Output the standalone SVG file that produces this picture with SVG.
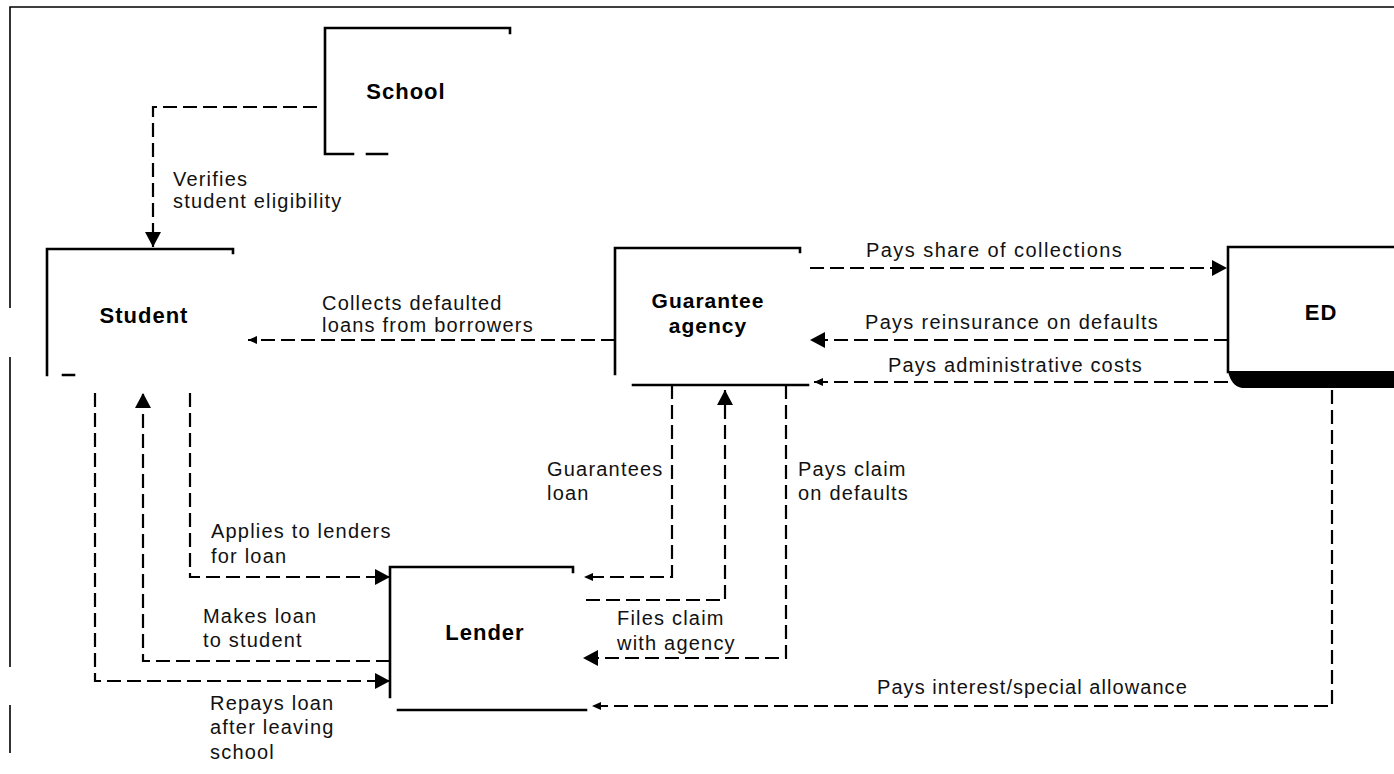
<svg xmlns="http://www.w3.org/2000/svg" width="1394" height="774" viewBox="0 0 1394 774">
<style>
.box{fill:none;stroke:#000;stroke-width:2.6;stroke-linecap:square}
.frame{fill:none;stroke:#000;stroke-width:1.6}
.con{fill:none;stroke:#000;stroke-width:2.2;stroke-dasharray:14 6}
.lbl{font-family:"Liberation Sans",Arial,sans-serif;font-size:20px;letter-spacing:1.2px;fill:#111}
.node{font-family:"Liberation Sans",Arial,sans-serif;font-size:22px;font-weight:bold;letter-spacing:1px;fill:#000;text-anchor:middle}
.node2{font-size:21px}
</style>
<defs>
<marker id="arr" markerUnits="userSpaceOnUse" markerWidth="16" markerHeight="16" refX="15" refY="8" orient="auto">
<path d="M0,0 L15,8 L0,16 z" fill="#000"/>
</marker>
<marker id="arrs" markerUnits="userSpaceOnUse" markerWidth="10" markerHeight="10" refX="9" refY="5" orient="auto">
<path d="M0,1 L9,5 L0,9 z" fill="#000"/>
</marker>
</defs>
<rect width="1394" height="774" fill="#fff"/>
<g id="frame">
<path class="frame" d="M10,308 L10,7 L1394,7 M10,357 L10,667 M10,705 L10,753"/>
</g>
<g id="school">
<path class="box" d="M510,33 L510,28 L325,28 L325,154 L353,154 M367,154 L387,154"/>
<text class="node" x="406" y="99">School</text>
</g>
<g id="student">
<path class="box" d="M233,253 L233,249 L47,249 L47,375 M63,375 L74,375"/>
<text class="node" x="144" y="323">Student</text>
</g>
<g id="guarantee-agency">
<path class="box" d="M800,252 L800,248 L615,248 L615,374 M633,385 L808,385"/>
<text class="node node2" x="708" y="308">Guarantee</text>
<text class="node node2" x="708" y="333">agency</text>
</g>
<g id="ed">
<path class="box" d="M1228,372 L1228,247 L1394,247"/>
<path d="M1228,371 L1394,371 L1394,388 L1242,388 Q1231,386 1228,371 Z" fill="#000"/>
<text class="node" x="1321" y="320">ED</text>
</g>
<g id="lender">
<path class="box" d="M573,572 L573,567 L390,567 L390,697 M398,710 L586,710"/>
<text class="node" x="485" y="640">Lender</text>
</g>
<g id="connectors">
<path class="con" d="M317,107 L153,107 L153,247" marker-end="url(#arr)"/>
<path class="con" d="M615,340 L248,340" marker-end="url(#arrs)"/>
<path class="con" d="M810,268 L1227,268" marker-end="url(#arr)"/>
<path class="con" d="M1228,340 L810,340" marker-end="url(#arr)"/>
<path class="con" d="M1228,382 L814,382" marker-end="url(#arrs)"/>
<path class="con" d="M672,385 L672,577 L584,577" marker-end="url(#arrs)"/>
<path class="con" d="M586,600 L725,600 L725,390" marker-end="url(#arr)"/>
<path class="con" d="M786,385 L786,658 L583,658" marker-end="url(#arr)"/>
<path class="con" d="M1332,390 L1332,706 L592,706" marker-end="url(#arrs)"/>
<path class="con" d="M190,393 L190,577 L390,577" marker-end="url(#arr)"/>
<path class="con" d="M390,661 L143,661 L143,393" marker-end="url(#arr)"/>
<path class="con" d="M95,393 L95,681 L390,681" marker-end="url(#arr)"/>
</g>
<g id="connector-labels">
<text class="lbl" x="173" y="186">Verifies</text>
<text class="lbl" x="173" y="208">student eligibility</text>
<text class="lbl" x="322" y="310">Collects defaulted</text>
<text class="lbl" x="322" y="332">loans from borrowers</text>
<text class="lbl" x="866" y="257" textLength="257">Pays share of collections</text>
<text class="lbl" x="865" y="329" textLength="294">Pays reinsurance on defaults</text>
<text class="lbl" x="888" y="372" textLength="255">Pays administrative costs</text>
<text class="lbl" x="547" y="476">Guarantees</text>
<text class="lbl" x="547" y="500">loan</text>
<text class="lbl" x="798" y="476">Pays claim</text>
<text class="lbl" x="798" y="500">on defaults</text>
<text class="lbl" x="617" y="625">Files claim</text>
<text class="lbl" x="617" y="650">with agency</text>
<text class="lbl" x="211" y="538">Applies to lenders</text>
<text class="lbl" x="211" y="563">for loan</text>
<text class="lbl" x="203" y="623">Makes loan</text>
<text class="lbl" x="203" y="647">to student</text>
<text class="lbl" x="210" y="710">Repays loan</text>
<text class="lbl" x="210" y="734">after leaving</text>
<text class="lbl" x="210" y="759">school</text>
<text class="lbl" x="877" y="694" textLength="311">Pays interest/special allowance</text>
</g>
</svg>
